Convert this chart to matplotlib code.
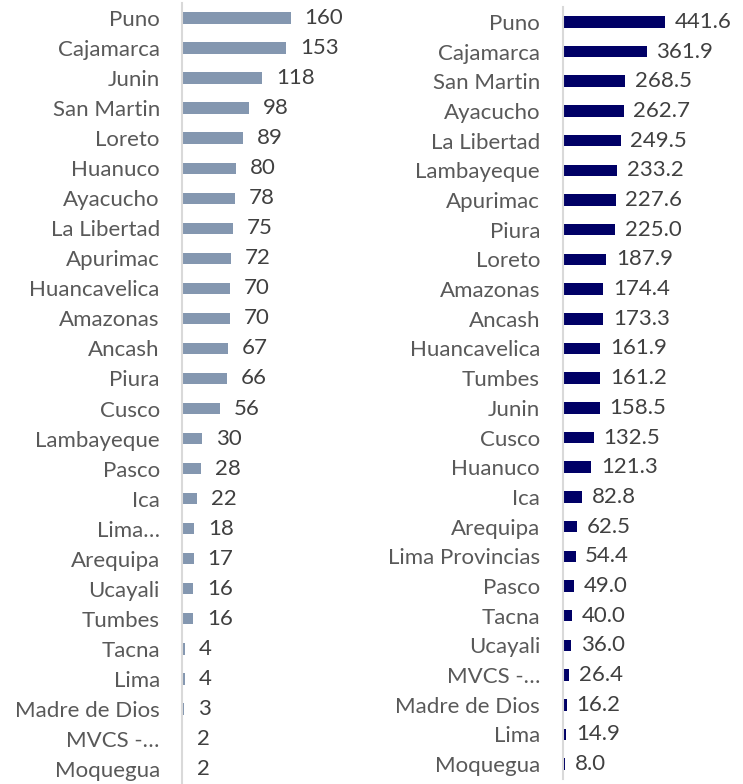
import matplotlib
matplotlib.use("Agg")
import matplotlib.pyplot as plt

left_cats = ["Puno", "Cajamarca", "Junin", "San Martin", "Loreto", "Huanuco", "Ayacucho",
             "La Libertad", "Apurimac", "Huancavelica", "Amazonas", "Ancash", "Piura", "Cusco",
             "Lambayeque", "Pasco", "Ica", "Lima…", "Arequipa", "Ucayali", "Tumbes", "Tacna",
             "Lima", "Madre de Dios", "MVCS -…", "Moquegua"]
left_vals = [160, 153, 118, 98, 89, 80, 78, 75, 72, 70, 70, 67, 66, 56, 30, 28, 22, 18, 17,
             16, 16, 4, 4, 3, 2, 2]

right_cats = ["Puno", "Cajamarca", "San Martin", "Ayacucho", "La Libertad", "Lambayeque",
              "Apurimac", "Piura", "Loreto", "Amazonas", "Ancash", "Huancavelica", "Tumbes",
              "Junin", "Cusco", "Huanuco", "Ica", "Arequipa", "Lima Provincias", "Pasco",
              "Tacna", "Ucayali", "MVCS -…", "Madre de Dios", "Lima", "Moquegua"]
right_vals = [441.6, 361.9, 268.5, 262.7, 249.5, 233.2, 227.6, 225.0, 187.9, 174.4, 173.3,
              161.9, 161.2, 158.5, 132.5, 121.3, 82.8, 62.5, 54.4, 49.0, 40.0, 36.0, 26.4,
              16.2, 14.9, 8.0]

plt.rcParams['font.family'] = ['Lato', 'DejaVu Sans']

W, H = 743, 784
fig = plt.figure(figsize=(W / 100, H / 100), dpi=100)

def make(ax, cats, vals, color, xmax, fmt, height, lab_off, pad):
    y = list(range(len(cats)))
    ax.barh(y, vals, height=height, color=color)
    ax.set_ylim(len(cats) - 0.5, -0.5)
    ax.set_xlim(0, xmax)
    ax.set_yticks(y)
    ax.set_yticklabels(cats, fontsize=16, color="#595959")
    ax.tick_params(axis='y', length=0, pad=pad)
    ax.set_xticks([])
    for s in ["top", "right", "bottom"]:
        ax.spines[s].set_visible(False)
    ax.spines["left"].set_color("#d9d9d9")
    ax.spines["left"].set_linewidth(1.5)
    for yi, v in zip(y, vals):
        ax.annotate(fmt.format(v), (v, yi), xytext=(lab_off, 0), textcoords="offset points",
                    va="center", ha="left", fontsize=16, color="#404040")

ax1 = fig.add_axes([182 / W, 0.0, 170 / W, 781 / H])
make(ax1, left_cats, left_vals, "#8497b0", 250, "{:.0f}", 0.38, 10, 16)

ax2 = fig.add_axes([563 / W, 5 / H, 180 / W, 772 / H])
make(ax2, right_cats, right_vals, "#000066", 779, "{:.1f}", 0.39, 7, 16.5)

fig.savefig("out.png", dpi=100)
